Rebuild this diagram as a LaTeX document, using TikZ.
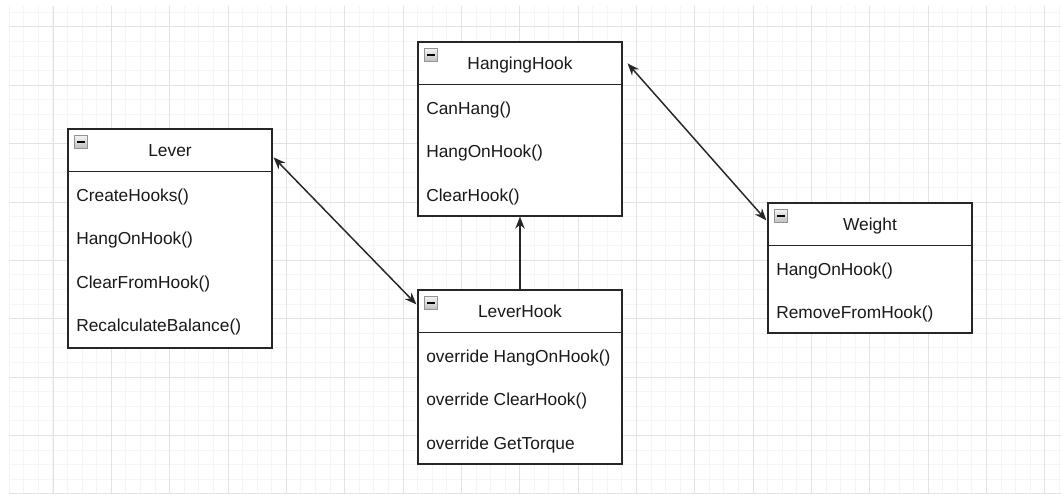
\documentclass[tikz,border=0pt]{standalone}
\usepackage{fontspec}
\setmainfont{Liberation Sans}
\usetikzlibrary{arrows.meta,calc}
\begin{document}
\begin{tikzpicture}[x=0.75pt,y=-0.75pt]

    \tikzset{
      classbox/.style={
        draw=black!85,
        line width=0.9pt,
        fill=white,
        minimum width=153pt,
        inner sep=0pt,
      },
      headtext/.style={
        anchor=base,
        inner sep=0pt,
        font=\fontsize{13}{15}\selectfont,
        text=black!90,
      },
      method/.style={
        anchor=base west,
        inner sep=0pt,
        font=\fontsize{13}{15}\selectfont,
        text=black!90,
      },
      minusicon/.style={
        anchor=north west,
        draw=gray!85,
        line width=0.5pt,
        top color=gray!10,
        bottom color=gray!50,
        minimum width=9.5pt,
        minimum height=9.5pt,
        inner sep=0pt,
      },
      minorgrid/.style={color={black!4},line width=0.75pt},
      majorgrid/.style={color={black!11},line width=0.75pt},
      assoc/.style={draw=black!85,line width=1.1pt,{Stealth[length=9pt,width=7pt]}-{Stealth[length=9pt,width=7pt]}},
      inherit/.style={draw=black!85,line width=1.1pt,-{Stealth[length=9pt,width=7pt]}},
    }
    \useasboundingbox (0,0) rectangle (1061,495);
    \fill[white] (0,0) rectangle (1061,495);

	% background grid
	\foreach \i in {0,...,72}
		\draw[minorgrid] (9.2+\i*14.5875,6)--(9.2+\i*14.5875,494);
	\foreach \i in {-1,...,32}
		\draw[minorgrid] (9,27+\i*14.5875)--(1061,27+\i*14.5875);
	\foreach \i in {0,...,17}
		\draw[majorgrid] (53+\i*58.35,6)--(53+\i*58.35,494);
	\foreach \i in {0,...,8}
		\draw[majorgrid] (9,27+\i*58.35)--(1061,27+\i*58.35);

	% Lever
	\node[classbox,minimum height=164.25pt] (lever) at (170,238.5) {};
	\draw[draw=black!85,line width=0.9pt] ([yshift=-32.6pt]lever.north west)--([yshift=-32.6pt]lever.north east);
	\node[minusicon] (leverIcon) at ([xshift=5.3pt,yshift=-5.3pt]lever.north west) {\rule{5.5pt}{1.1pt}};
	\node[headtext] (leverName) at ([yshift=-21.2pt]lever.north) {Lever};
	\node[method] (lever1) at ([xshift=6.5pt,yshift=-54.6pt]lever.north west) {CreateHooks()};
	\node[method] (lever2) at ([xshift=6.5pt,yshift=-87.2pt]lever.north west) {HangOnHook()};
	\node[method] (lever3) at ([xshift=6.5pt,yshift=-119.8pt]lever.north west) {ClearFromHook()};
	\node[method] (lever4) at ([xshift=6.5pt,yshift=-152.4pt]lever.north west) {RecalculateBalance()};

	% HangingHook
	\node[classbox,minimum height=130.5pt] (hanginghook) at (520,129) {};
	\draw[draw=black!85,line width=0.9pt] ([yshift=-32.6pt]hanginghook.north west)--([yshift=-32.6pt]hanginghook.north east);
	\node[minusicon] (hanginghookIcon) at ([xshift=5.3pt,yshift=-5.3pt]hanginghook.north west) {\rule{5.5pt}{1.1pt}};
	\node[headtext] (hanginghookName) at ([yshift=-21.2pt]hanginghook.north) {HangingHook};
	\node[method] (hanginghook1) at ([xshift=6.5pt,yshift=-54.6pt]hanginghook.north west) {CanHang()};
	\node[method] (hanginghook2) at ([xshift=6.5pt,yshift=-87.2pt]hanginghook.north west) {HangOnHook()};
	\node[method] (hanginghook3) at ([xshift=6.5pt,yshift=-119.8pt]hanginghook.north west) {ClearHook()};

	% Weight
	\node[classbox,minimum height=97.5pt] (weight) at (870,268) {};
	\draw[draw=black!85,line width=0.9pt] ([yshift=-32.6pt]weight.north west)--([yshift=-32.6pt]weight.north east);
	\node[minusicon] (weightIcon) at ([xshift=5.3pt,yshift=-5.3pt]weight.north west) {\rule{5.5pt}{1.1pt}};
	\node[headtext] (weightName) at ([yshift=-21.2pt]weight.north) {Weight};
	\node[method] (weight1) at ([xshift=6.5pt,yshift=-54.6pt]weight.north west) {HangOnHook()};
	\node[method] (weight2) at ([xshift=6.5pt,yshift=-87.2pt]weight.north west) {RemoveFromHook()};

	% LeverHook
	\node[classbox,minimum height=130.5pt] (leverhook) at (520,377) {};
	\draw[draw=black!85,line width=0.9pt] ([yshift=-32.6pt]leverhook.north west)--([yshift=-32.6pt]leverhook.north east);
	\node[minusicon] (leverhookIcon) at ([xshift=5.3pt,yshift=-5.3pt]leverhook.north west) {\rule{5.5pt}{1.1pt}};
	\node[headtext] (leverhookName) at ([yshift=-21.2pt]leverhook.north) {LeverHook};
	\node[method] (leverhook1) at ([xshift=6.5pt,yshift=-54.6pt]leverhook.north west) {override HangOnHook()};
	\node[method] (leverhook2) at ([xshift=6.5pt,yshift=-87.2pt]leverhook.north west) {override ClearHook()};
	\node[method] (leverhook3) at ([xshift=6.5pt,yshift=-119.8pt]leverhook.north west) {override GetTorque};

	% connectors
	\coordinate (leverR) at ([xshift=0.75pt,yshift=-21.75pt]lever.north east);
	\coordinate (leverhookL) at ([xshift=-0.75pt,yshift=-11.25pt]leverhook.north west);
	\coordinate (hanginghookR) at ([xshift=3.75pt,yshift=-16.5pt]hanginghook.north east);
	\coordinate (weightL) at ([xshift=-0.75pt,yshift=-13.5pt]weight.north west);
	\draw[assoc] (leverR)--(leverhookL);
	\draw[assoc] (hanginghookR)--(weightL);
	\draw[inherit] (leverhook.north)--(hanginghook.south);

\end{tikzpicture}
\end{document}
